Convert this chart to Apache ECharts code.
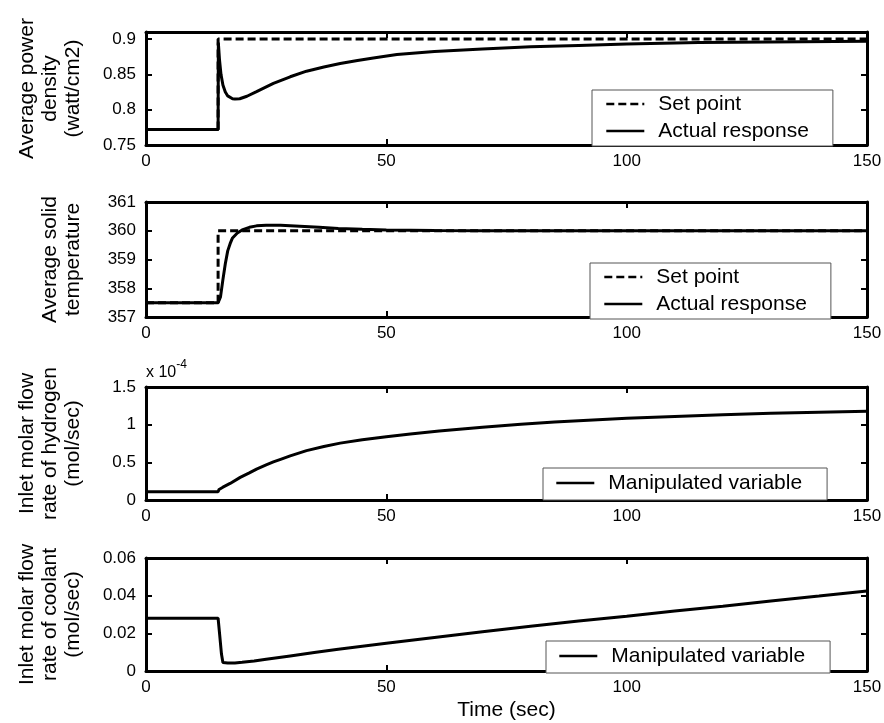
<!DOCTYPE html>
<html>
<head>
<meta charset="utf-8">
<script src="https://cdn.jsdelivr.net/npm/echarts/dist/echarts.min.js"></script>
<style>
  html, body { margin: 0; padding: 0; background: #fff; }
  #chart { width: 884px; height: 723px; }
</style>
</head>
<body>
<div id="chart"></div>
<script>
// ---- time axis ----
const timeTicks = [0, 50, 100, 150];

// ---- panel 1: average power density (watt/cm2) ----
const powerTicks = [0.75, 0.8, 0.85, 0.9];
const powerRange = [0.75, 0.91];
const powerSetTime = [0, 15, 15, 150];
const powerSetValue = [0.772, 0.772, 0.9, 0.9];
const powerTime = [0, 15, 15.05, 15.3, 15.6, 16, 16.5, 17, 18, 18.5, 19.5, 21, 23, 26.5, 30, 33.4, 37, 40.4, 44, 47.3, 52.2, 60, 70, 80, 90, 100, 115, 130, 150];
const powerActual = [0.772, 0.772, 0.895, 0.87, 0.85, 0.835, 0.825, 0.8195, 0.8155, 0.815, 0.8155, 0.819, 0.8256, 0.8372, 0.8466, 0.8545, 0.8605, 0.8653, 0.8697, 0.8733, 0.878, 0.8825, 0.886, 0.889, 0.891, 0.893, 0.895, 0.896, 0.897];

// ---- panel 2: average solid temperature ----
const tempTicks = [357, 358, 359, 360, 361];
const tempRange = [357, 361];
const tempSetTime = [0, 15, 15, 150];
const tempSetValue = [357.5, 357.5, 360, 360];
const tempTime = [0, 15, 15.5, 16, 16.5, 17, 17.5, 18, 19, 20, 21.5, 23, 25, 28, 32, 36, 40, 45, 50, 60, 70, 80, 100, 150];
const tempActual = [357.5, 357.5, 357.7, 358.3, 358.85, 359.3, 359.55, 359.75, 359.92, 360.03, 360.12, 360.17, 360.19, 360.19, 360.16, 360.12, 360.08, 360.05, 360.03, 360.01, 360.0, 360.0, 360.0, 360.0];

// ---- panel 3: inlet molar flow rate of hydrogen (x 1e-4 mol/sec) ----
const h2Ticks = [0, 0.5, 1, 1.5];
const h2Range = [0, 1.5];
const h2Time = [0, 15, 15.2, 16, 17.5, 19.6, 21.5, 23, 25, 26.5, 28, 30, 33.4, 37, 40.4, 45, 50, 55, 61, 70, 78, 85, 92, 100, 110, 120, 130, 140, 150];
const h2Flow = [0.11, 0.11, 0.14, 0.17, 0.22, 0.30, 0.36, 0.41, 0.465, 0.505, 0.54, 0.585, 0.655, 0.71, 0.755, 0.80, 0.84, 0.875, 0.915, 0.965, 1.005, 1.035, 1.06, 1.085, 1.11, 1.13, 1.15, 1.165, 1.178];

// ---- panel 4: inlet molar flow rate of coolant (mol/sec) ----
const coolTicks = [0, 0.02, 0.04, 0.06];
const coolRange = [0, 0.06];
const coolTime = [0, 15, 15.3, 15.7, 16, 17, 18.5, 20, 22.5, 25, 30, 35, 40, 45, 50, 60, 70, 80, 90, 100, 110, 120, 130, 140, 150];
const coolFlow = [0.028, 0.028, 0.02, 0.009, 0.0045, 0.0042, 0.0043, 0.0046, 0.0053, 0.0062, 0.008, 0.0098, 0.0115, 0.0131, 0.0147, 0.0178, 0.0209, 0.0238, 0.0265, 0.0291, 0.0318, 0.0344, 0.0372, 0.0398, 0.0425];

const zip = (xs, ys) => xs.map((x, i) => [x, ys[i]]);

const FONT = 'Liberation Sans, Arial, Helvetica, sans-serif';
const BLACK = '#000';

const panels = [
  { top: 32,  height: 113, ticks: powerTicks, range: powerRange, name: 'Average power\ndensity\n(watt/cm2)' },
  { top: 202, height: 115, ticks: tempTicks,  range: tempRange,  name: 'Average solid\ntemperature' },
  { top: 387, height: 113, ticks: h2Ticks,    range: h2Range,    name: 'Inlet molar flow\nrate of hydrogen\n(mol/sec)' },
  { top: 558, height: 113, ticks: coolTicks,  range: coolRange,  name: 'Inlet molar flow\nrate of coolant\n(mol/sec)' }
];

const grid = [], xAxis = [], yAxis = [];
const lineAxis = { show: true, onZero: false, lineStyle: { color: BLACK, width: 3 } };
const tickStyle = (vals) => ({ show: true, inside: true, length: 6, customValues: vals, lineStyle: { color: BLACK, width: 2 } });

panels.forEach((p, i) => {
  grid.push({ left: 146, width: 721, top: p.top, height: p.height, outerBoundsMode: 'none', containLabel: false });
  // bottom and top time axes
  xAxis.push({
    type: 'value', gridIndex: i, position: 'bottom', min: 0, max: 150,
    axisLine: lineAxis, axisTick: tickStyle(timeTicks), splitLine: { show: false },
    axisLabel: { customValues: timeTicks, fontSize: 17, color: BLACK, fontFamily: FONT, margin: 8 },
    name: i === 3 ? 'Time (sec)' : '', nameLocation: 'middle', nameGap: 29,
    nameTextStyle: { fontSize: 21, color: BLACK, fontFamily: FONT }
  });
  xAxis.push({
    type: 'value', gridIndex: i, position: 'top', min: 0, max: 150,
    axisLine: lineAxis, axisTick: tickStyle(timeTicks), splitLine: { show: false },
    axisLabel: { show: false }
  });
  // left and right value axes
  yAxis.push({
    type: 'value', gridIndex: i, position: 'left', min: p.range[0], max: p.range[1],
    axisLine: lineAxis, axisTick: tickStyle(p.ticks), splitLine: { show: false },
    axisLabel: { customValues: p.ticks, fontSize: 17, color: BLACK, fontFamily: FONT, margin: 10 },
    name: p.name, nameLocation: 'middle', nameRotate: 90, nameGap: 61,
    nameTextStyle: { fontSize: 21, lineHeight: 23, color: BLACK, fontFamily: FONT }
  });
  yAxis.push({
    type: 'value', gridIndex: i, position: 'right', min: p.range[0], max: p.range[1],
    axisLine: lineAxis, axisTick: tickStyle(p.ticks), splitLine: { show: false },
    axisLabel: { show: false }
  });
});

// scale factor shown above the hydrogen panel
yAxis.push({
  type: 'value', gridIndex: 2, position: 'left', min: h2Range[0], max: h2Range[1],
  axisLine: { show: false }, axisTick: { show: false }, axisLabel: { show: false }, splitLine: { show: false },
  name: '{n|x 10}{s|-4}', nameLocation: 'end', nameGap: 6,
  nameTextStyle: {
    align: 'left', color: BLACK, fontFamily: FONT,
    rich: {
      n: { fontSize: 16, lineHeight: 22, verticalAlign: 'bottom', color: BLACK, fontFamily: FONT },
      s: { fontSize: 12, lineHeight: 22, verticalAlign: 'top', color: BLACK, fontFamily: FONT }
    }
  }
});

const solid = { color: BLACK, width: 3, type: 'solid' };
const dashed = { color: BLACK, width: 3, type: [8, 4] };
const mkLine = (name, data, axis, style, z) => ({
  name, type: 'line', data, xAxisIndex: axis * 2, yAxisIndex: axis * 2,
  symbol: 'none', showSymbol: false, lineStyle: style, itemStyle: { color: BLACK },
  emphasis: { disabled: true }, silent: true, z: z || 2
});

const series = [
  mkLine('Set point', zip(powerSetTime, powerSetValue), 0, dashed, 2),
  mkLine('Actual response', zip(powerTime, powerActual), 0, solid, 3),
  mkLine('Set point', zip(tempSetTime, tempSetValue), 1, dashed, 2),
  mkLine('Actual response', zip(tempTime, tempActual), 1, solid, 3),
  mkLine('Manipulated variable', zip(h2Time, h2Flow), 2, solid, 3),
  mkLine('Manipulated variable', zip(coolTime, coolFlow), 3, solid, 3)
];

const legendBase = {
  orient: 'vertical', itemWidth: 38, itemHeight: 14, itemGap: 5,
  backgroundColor: '#fff', borderColor: '#555', borderWidth: 1, borderRadius: 0,
  selectedMode: false, z: 10,
  itemStyle: { color: 'rgba(0,0,0,0)', borderColor: 'rgba(0,0,0,0)', borderWidth: 0, opacity: 0 },
  lineStyle: { width: 2.6 },
  textStyle: { fontSize: 21, lineHeight: 22, color: BLACK, fontFamily: FONT, padding: [0, 0, 0, 9] }
};
const legend = [
  Object.assign({}, legendBase, { data: ['Set point', 'Actual response'], left: 592, top: 90, padding: [3, 24, 4, 13] }),
  Object.assign({}, legendBase, { data: ['Set point', 'Actual response'], left: 590, top: 263, padding: [3, 24, 4, 13] }),
  Object.assign({}, legendBase, { data: ['Manipulated variable'], left: 543, top: 468, padding: [4, 25, 6, 12] }),
  Object.assign({}, legendBase, { data: ['Manipulated variable'], left: 546, top: 641, padding: [4, 25, 6, 12] })
];

const chart = echarts.init(document.getElementById('chart'), null, { renderer: 'canvas' });
chart.setOption({
  backgroundColor: '#fff',
  animation: false,
  textStyle: { fontFamily: FONT },
  grid, xAxis, yAxis, legend, series
});
</script>
</body>
</html>
